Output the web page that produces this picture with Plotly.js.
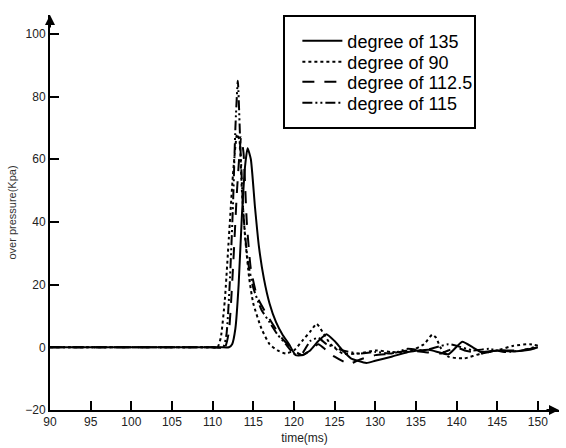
<!DOCTYPE html>
<html><head><meta charset="utf-8">
<script src="https://cdn.plot.ly/plotly-3.0.1.min.js"></script>
<style>body{margin:0;background:#fff}#c{width:566px;height:448px}</style>
</head><body><div id="c"></div>
<script>
// degree of 135 (solid)
const t135 = [90,100,108,111,112,112.4,112.8,113.2,113.6,114,114.3,114.7,115.2,115.7,116.3,117,117.8,118.6,119.4,120.2,121,122,123,124,125,126,127,128.9,130,132,134.2,136.6,139,140.7,142,143,145,147,149,150];
const v135 = [0,0,0,0,0,1,6,20,42,58,63.5,60,45,32,22,14,8,4,1,-2.5,-2.5,-1,2,4.2,2,-1,-3.5,-5,-4.3,-3,-1.4,-0.8,-2.2,1.8,0,-1.5,-1,-1.3,-0.8,0];
// degree of 90 (dotted)
const t90 = [90,100,108,110,110.6,111,111.5,112,112.5,113,113.3,113.6,114,114.5,115,116,117,118,119,120,121,122,122.8,123.5,124.5,126,128,130,132,134,136,137,137.5,138,139,141,143,145,147,149,150];
const v90 = [0,0,0,0,0,3,15,35,55,68,66,50,35,22,14,6,1,-1,-2,-1,2,5,7.5,5,1,-2,-2,-1,-1.5,-1.5,1,4,3,0,-3,-3.5,-2,-1,0.5,1,0.5];
// degree of 112.5 (dashed)
const t1125 = [90,100,108,110,111.5,112,112.5,113,113.5,113.8,114.2,114.7,115.5,117,118.5,120,121,122,123,124,125,126.8,128,130,132,134,136,138,140,141,143,145,147,149,150];
const v1125 = [0,0,0,0,0,5,25,50,67,62,40,25,16,9,3,-1,-2.5,-1,1,-1,-3,-5.3,-4,-2.5,-2,-1,-1.5,-2,0,-1,-2,-1,-1,-0.5,0];
// degree of 115 (dash-dot-dot)
const t115 = [90,100,108,110,111.3,111.7,112.1,112.5,112.8,113.1,113.4,113.8,114.3,115,116,117,118,119,120,121,122,123,124,125,126,128,130,132,134,136,137.5,139,140,142,144,146,148,149.5];
const v115 = [0,0,0,0,0,4,20,45,70,85,65,42,28,19,12,8,4,1,-2,-2,2,3,1,0,-1,-2,-1.5,-2,-0.5,-1,0,1,0.5,-1,-0.5,-1.5,-1,0];
const names = ['degree of 135','degree of 90','degree of 112.5','degree of 115'];
const xTicks = [90,95,100,105,110,115,120,125,130,135,140,145,150];
const yTicks = [-20,0,20,40,60,80,100];

const mk = (x,y,name,dash,lg) => ({x:x,y:y,name:name,type:'scatter',mode:'lines',legend:lg,
  line:{color:'#000',width:2,dash:dash,shape:'spline',smoothing:0.5}});
const data = [
  mk(t135,v135,names[0],'solid','legend'),
  mk(t90,v90,names[1],'dot','legend2'),
  mk(t1125,v1125,names[2],'12px,10px','legend3'),
  mk(t115,v115,names[3],'10px,3px,2px,3px,2px,3px','legend4')
];
const F = 'Liberation Sans, Arial, sans-serif';
const axFont = {family:F,size:12,color:'#222'};
const rowY = [41,62,82,103];
const lg = yc => ({x:0.486,y:(410-yc)/395,xanchor:'left',yanchor:'middle',bgcolor:'rgba(0,0,0,0)',borderwidth:0,
    itemwidth:40,font:{family:F,size:18,color:'#000'}});
const layout = {
  width:566,height:448,
  margin:{l:50,r:7,t:15,b:38},
  paper_bgcolor:'#fff',plot_bgcolor:'#fff',
  showlegend:true,
  legend:lg(rowY[0]),legend2:lg(rowY[1]),legend3:lg(rowY[2]),legend4:lg(rowY[3]),
  xaxis:{range:[90,152.6],tickvals:xTicks,ticktext:xTicks.map(String),ticks:'inside',ticklen:9,tickwidth:2,tickcolor:'#000',
    showline:true,linecolor:'#000',linewidth:2,showgrid:false,zeroline:false,tickfont:axFont,
    title:{text:'time(ms)',font:{family:F,size:12,color:'#222'},standoff:5}},
  yaxis:{range:[-20,106],tickvals:yTicks,ticks:'inside',ticklen:9,tickwidth:2,tickcolor:'#000',
    showline:true,linecolor:'#000',linewidth:2,showgrid:false,zeroline:false,tickfont:axFont,
    title:{text:'over pressure(Kpa)',font:{family:F,size:11,color:'#333'},standoff:6}},
  shapes:[{type:'rect',xref:'paper',yref:'paper',x0:(284-50)/509,x1:(475-50)/509,y0:(410-128)/395,y1:(410-16)/395,
    line:{color:'#000',width:2},fillcolor:'rgba(0,0,0,0)'}],
  annotations:[
    {x:152.6,y:-20,xref:'x',yref:'y',ax:-14,ay:0,showarrow:true,arrowhead:2,arrowsize:1,arrowwidth:2,arrowcolor:'#000',text:''},
    {x:90,y:106,xref:'x',yref:'y',ax:0,ay:14,showarrow:true,arrowhead:2,arrowsize:1,arrowwidth:2,arrowcolor:'#000',text:''}
  ]
};
Plotly.newPlot('c',data,layout,{displayModeBar:false});
</script></body></html>
